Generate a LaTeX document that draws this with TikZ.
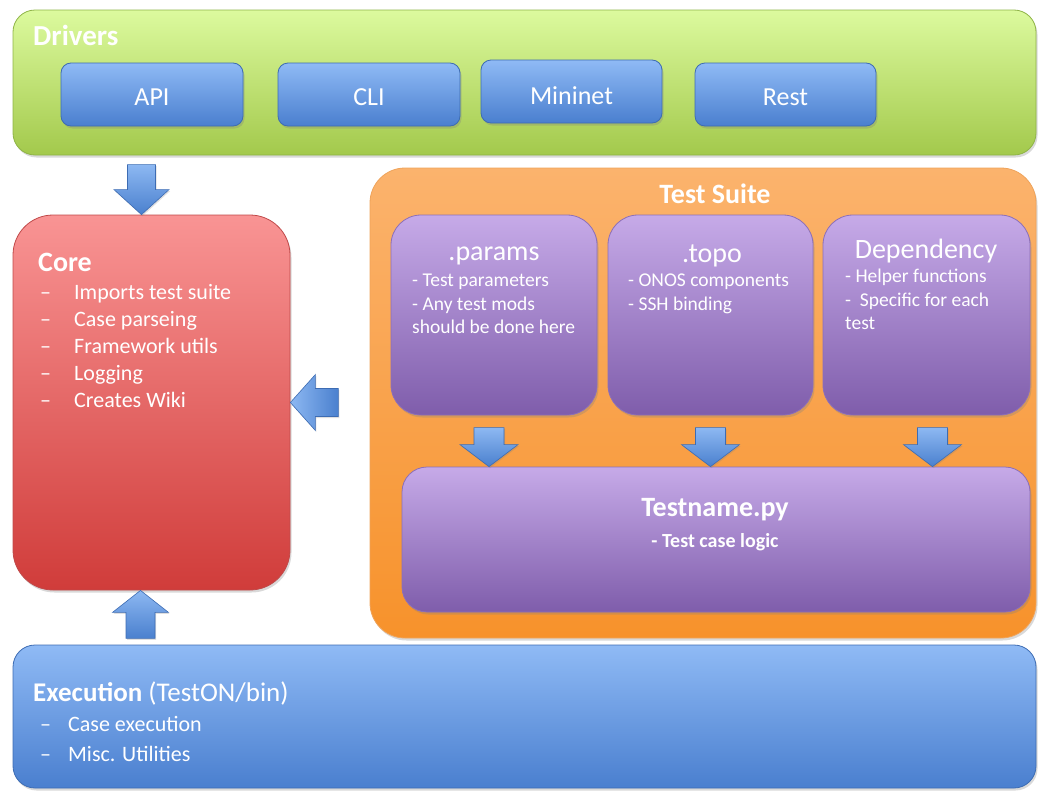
\documentclass[tikz,border=0pt]{standalone}
\usepackage{fontspec}
\setmainfont{Carlito}
\usetikzlibrary{shadows,calc}

\definecolor{grnT}{HTML}{DCFA9E}
\definecolor{grnB}{HTML}{A3C94C}
\definecolor{grnD}{HTML}{8FB447}
\definecolor{bluT}{HTML}{8FBAF5}
\definecolor{bluB}{HTML}{4A7FCF}
\definecolor{bluD}{HTML}{3D6CB3}
\definecolor{redT}{HTML}{F99494}
\definecolor{redB}{HTML}{D03C3A}
\definecolor{redD}{HTML}{C04A4A}
\definecolor{orgT}{HTML}{FBB36D}
\definecolor{orgB}{HTML}{F7922B}
\definecolor{orgD}{HTML}{EFA35A}
\definecolor{purT}{HTML}{C6AAE8}
\definecolor{purB}{HTML}{7F5DAB}
\definecolor{purD}{HTML}{8C6FB8}
\definecolor{arrL}{HTML}{8DB8F2}
\definecolor{arrD}{HTML}{4A80CE}

\tikzset{
  panel/.style={draw, line width=0.8pt, inner sep=0pt, rounded corners=#1,
    drop shadow={opacity=0.3, shadow xshift=1.5pt, shadow yshift=-2.5pt}},
  greenpanel/.style={panel=22pt, draw=grnD, top color=grnT, bottom color=grnB},
  bluepanel/.style={panel=#1, draw=bluD, top color=bluT, bottom color=bluB},
  redpanel/.style={panel=40pt, draw=redD, top color=redT, bottom color=redB},
  orangepanel/.style={panel=35pt, draw=orgD, top color=orgT, bottom color=orgB},
  purplepanel/.style={panel=#1, draw=purD, top color=purT, bottom color=purB},
  title/.style={text=white, font=\bfseries\fontsize{28}{30}\selectfont, inner sep=0pt},
  label/.style={text=white, font=\fontsize{26}{28}\selectfont, inner sep=0pt},
  bullets/.style={text=white, align=left, inner sep=0pt},
  arrowfill/.style={top color=arrL, bottom color=arrD},
  arrowbody/.style={draw=bluD, line width=0.6pt, drop shadow={opacity=0.25, shadow xshift=1pt, shadow yshift=-1.5pt}},
  pics/blkarrow/.style args={#1/#2/#3/#4}{code={
    % tip at the origin, pointing along +x; #1 length, #2 head length,
    % #3 half head width, #4 half shaft width
    \path[arrowbody, arrowfill] (0,0) -- (-#2,#3) -- (-#2,#4) -- (-#1,#4)
      -- (-#1,-#4) -- (-#2,-#4) -- (-#2,-#3) -- cycle;
  }},
}

\begin{document}
\begin{tikzpicture}[x=1pt, y=-1pt]
\useasboundingbox (0,0) rectangle (1039,790);

% ---------- Drivers ----------
\node[greenpanel, minimum width=1023pt, minimum height=145pt] (drivers) at (524.5,82.5) {};
\node[title, anchor=base west, font=\bfseries\fontsize{29}{30}\selectfont] (driverstitle) at (33,45) {Drivers};
\node[bluepanel=10pt, minimum width=182pt, minimum height=63pt] (api) at (152,94.5) {};
\node[bluepanel=10pt, minimum width=182pt, minimum height=63pt] (cli) at (369,94.5) {};
\node[bluepanel=10pt, minimum width=181pt, minimum height=63pt] (mininet) at (571.5,91.5) {};
\node[bluepanel=10pt, minimum width=181pt, minimum height=63pt] (rest) at (785.5,94.5) {};
\node[label] (apit) at ($(api)+(0,3)$) {API};
\node[label] (clit) at ($(cli)+(0,3)$) {CLI};
\node[label] (mininett) at ($(mininet)+(0,4)$) {Mininet};
\node[label] (restt) at ($(rest)+(0,3)$) {Rest};

% ---------- Core ----------
\node[redpanel, minimum width=277pt, minimum height=375pt] (core) at (151.5,402.5) {};
\node[title, anchor=base west] (coretitle) at (38,271) {Core};
\node[bullets, anchor=north west, font=\fontsize{22}{27}\selectfont] (corelist) at (40,284)
  {\makebox[34pt][l]{–}Imports test suite\\
   \makebox[34pt][l]{–}Case parseing\\
   \makebox[34pt][l]{–}Framework utils\\
   \makebox[34pt][l]{–}Logging\\
   \makebox[34pt][l]{–}Creates Wiki};

% ---------- Test suite ----------
\node[orangepanel, minimum width=666pt, minimum height=470pt] (suite) at (703,403) {};
\node[title] (suitetitle) at (715,194) {Test Suite};

\node[purplepanel=30pt, minimum width=206pt, minimum height=200pt] (params) at (494,315) {};
\node[purplepanel=30pt, minimum width=205pt, minimum height=200pt] (topo) at (710.5,315) {};
\node[purplepanel=30pt, minimum width=207pt, minimum height=200pt] (dep) at (926.5,315) {};

\node[label, font=\fontsize{28}{30}\selectfont] (paramst) at (494,256) {.params};
\node[label, font=\fontsize{28}{30}\selectfont] (topot) at (712,256) {.topo};
\node[label, font=\fontsize{28}{30}\selectfont] (dept) at (926,251) {Dependency};

\node[bullets, anchor=north west, font=\fontsize{19.5}{23.5}\selectfont] (paramslist) at (412,274)
  {- Test parameters\\- Any test mods\\should be done here};
\node[bullets, anchor=north west, font=\fontsize{19.5}{23.5}\selectfont] (topolist) at (628,274)
  {- ONOS components\\- SSH binding};
\node[bullets, anchor=north west, font=\fontsize{19.5}{23.5}\selectfont] (deplist) at (845,269)
  {- Helper functions\\-~~Specific for each\\test};

\node[purplepanel=25pt, minimum width=628pt, minimum height=145pt] (testname) at (716,539.5) {};
\node[title] (testnamet) at (715,510) {Testname.py};
\node[title, font=\bfseries\fontsize{20}{22}\selectfont] (testnamesub) at (715,542) {- Test case logic};

% ---------- Execution ----------
\node[bluepanel=22pt, minimum width=1023pt, minimum height=143pt] (exec) at (524.5,716.5) {};
\node[text=white, anchor=base west, inner sep=0pt, font=\fontsize{27}{30}\selectfont] (exectitle) at (33,701)
  {\textbf{Execution} (TestON/bin)};
\node[bullets, anchor=north west, font=\fontsize{22}{30}\selectfont] (execlist) at (40,716)
  {\makebox[28pt][l]{–}Case execution\\
   \makebox[28pt][l]{–}Misc. Utilities};

% ---------- Block arrows ----------
\pic[rotate=-90] at ($(core.north)+(-10,0)$) {blkarrow=50/25/27.5/14};
\pic[rotate=180, arrowfill/.style={left color=arrL, right color=arrD}] at (core.east) {blkarrow=48/25/28/14};
\pic[rotate=90] at ($(core.south)+(-11,0)$) {blkarrow=48/22/28/14.5};
\pic[rotate=-90] at ($(params.south |- testname.north)+(-5,0)$) {blkarrow=39/22/29/15};
\pic[rotate=-90] at ($(topo.south |- testname.north)+(0,0)$) {blkarrow=39/22/29/15};
\pic[rotate=-90] at ($(dep.south |- testname.north)+(6,0)$) {blkarrow=39/22/29/15};
\end{tikzpicture}
\end{document}
